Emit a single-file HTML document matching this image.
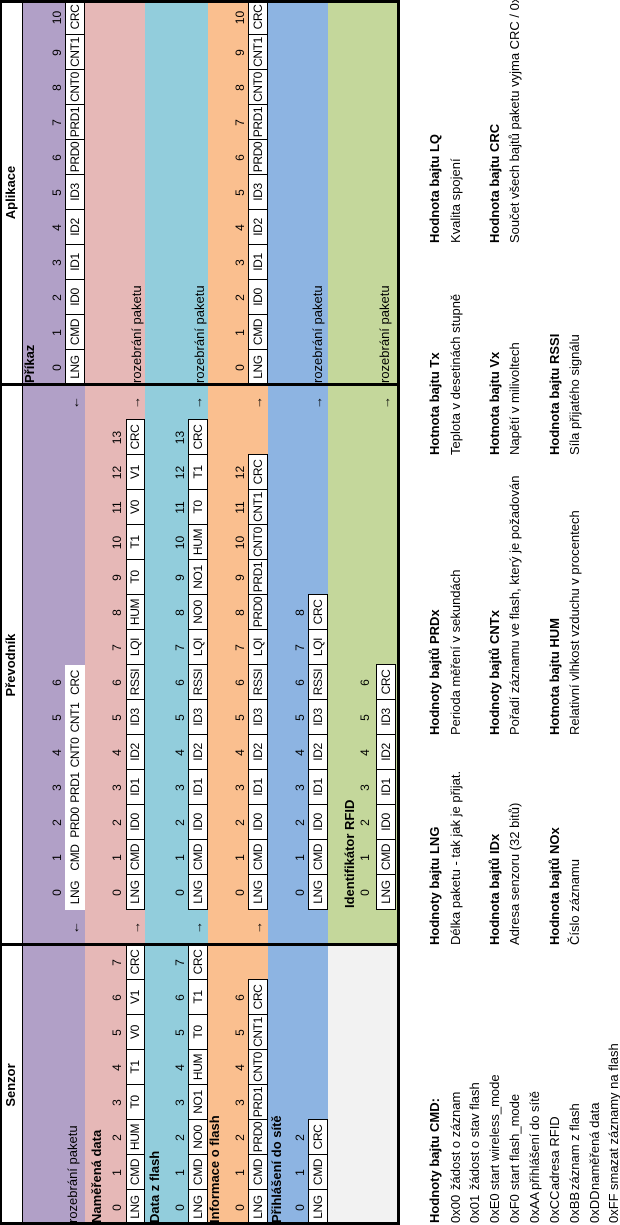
<!DOCTYPE html>
<html><head><meta charset="utf-8">
<style>
html,body{margin:0;padding:0;background:#fff;}
body{width:620px;height:1225px;position:relative;overflow:hidden;font-family:"Liberation Sans",Arial,sans-serif;color:#000;}
#root{position:absolute;left:0;top:0;width:1225px;height:620px;transform-origin:0 0;transform:translateY(1225px) rotate(-90deg);}
.a{position:absolute;box-sizing:border-box;white-space:nowrap;}
.c{text-align:center;}
.cell{background:#fff;border:1px solid #000;font-size:12px;text-align:center;letter-spacing:-0.4px;}
.num{font-size:12px;text-align:center;}
.t{font-size:13px;}
.b{font-weight:bold;}
</style></head>
<body>
<div id="root"></div>
<script>
const rowNames = ['purple','pink','teal','orange','blue','green'];
const rowColors = ['#b1a0c7','#e6b8b7','#92cddc','#fabf8f','#8db4e2','#c4d79b'];
const rowTop = [22,85,145,208,268,328];
const rowBot = [85,145,208,268,328,398];
const numY = [57,117,180,240,300,365];
const cellTop = [65,126,188,248,308,376];
const cellH = [20,19,20,20,20,20];
const titleY = [73,97,155,215,277,350];
const appTextY = [30,137,200,240,318,385];

const sensorTitles = ['rozebrání paketu','Naměřená data','Data z flash','Informace o flash','Přihlášení do sítě',''];
const sensorCells = [
 [],
 ['LNG','CMD','HUM','T0','T1','V0','V1','CRC'],
 ['LNG','CMD','NO0','NO1','HUM','T0','T1','CRC'],
 ['LNG','CMD','PRD0','PRD1','CNT0','CNT1','CRC'],
 ['LNG','CMD','CRC'],
 []
];
const convCells = [
 ['LNG','CMD','PRD0','PRD1','CNT0','CNT1','CRC'],
 ['LNG','CMD','ID0','ID1','ID2','ID3','RSSI','LQI','HUM','T0','T1','V0','V1','CRC'],
 ['LNG','CMD','ID0','ID1','ID2','ID3','RSSI','LQI','NO0','NO1','HUM','T0','T1','CRC'],
 ['LNG','CMD','ID0','ID1','ID2','ID3','RSSI','LQI','PRD0','PRD1','CNT0','CNT1','CRC'],
 ['LNG','CMD','ID0','ID1','ID2','ID3','RSSI','LQI','CRC'],
 ['LNG','CMD','ID0','ID1','ID2','ID3','CRC']
];
const appCells = [
 ['LNG','CMD','ID0','ID1','ID2','ID3','PRD0','PRD1','CNT0','CNT1','CRC'],
 [],[],
 ['LNG','CMD','ID0','ID1','ID2','ID3','PRD0','PRD1','CNT0','CNT1','CRC'],
 [],[]
];
const arrowLeft = ['←','→','→','→','',''];
const arrowRight = ['←','→','→','→','→','→'];
const CW = 35;
const root = document.getElementById('root');

function box(x,y,w,h,cls,text,name,style){
  const d=document.createElement('div');
  d.className='a '+(cls||'');
  d.style.left=x+'px';d.style.top=y+'px';d.style.width=w+'px';d.style.height=h+'px';
  if(h) d.style.lineHeight=(h-(cls&&cls.indexOf('cell')>=0?2:0))+'px';
  if(style) Object.assign(d.style,style);
  if(text!==undefined) d.textContent=text;
  
  
  root.appendChild(d);
  return d;
}

// header
box(0,0,1225,22,'', undefined,'header-row',{background:'#fff'});
box(0,0,280,22,'c t b','Senzor','senzor-header');
box(280,0,560,22,'c t b','Převodník','prevodnik-header');
box(840,0,385,22,'c t b','Aplikace','aplikace-header');

// row backgrounds
rowNames.forEach((n,i)=>{
  box(0,rowTop[i],280,rowBot[i]-rowTop[i],'',undefined,'senzor-'+n+'-band',{background: i===5?'#f2f2f2':rowColors[i]});
  box(280,rowTop[i],560,rowBot[i]-rowTop[i],'',undefined,'prevodnik-'+n+'-band',{background:rowColors[i]});
  box(840,rowTop[i],385,rowBot[i]-rowTop[i],'',undefined,'aplikace-'+n+'-band',{background:rowColors[i]});
});

function drawCells(list,col0,ri,prefix,bordered){
  list.forEach((txt,k)=>{
    const x=(col0+k)*CW;
    box(x,numY[ri]-8,CW,16,'num',String(k),prefix+'-index-'+k);
    if(bordered){
      box(x,cellTop[ri],CW+1,cellH[ri],'cell',txt,prefix+'-cell-'+txt.toLowerCase());
    }
  });
  if(!bordered && list.length){
    box(col0*CW,cellTop[ri],list.length*CW,cellH[ri],'',undefined,prefix+'-cells-bg',{background:'#fff'});
    list.forEach((txt,k)=>{
      box((col0+k)*CW,cellTop[ri],CW,cellH[ri],'c',txt,prefix+'-cell-'+txt.toLowerCase(),{fontSize:'12px',letterSpacing:'-0.4px'});
    });
  }
}

rowNames.forEach((n,i)=>{
  // senzor
  if(sensorTitles[i]){
    const bold = i>0;
    box(2,titleY[i]-9,270,18,'t'+(bold?' b':''),sensorTitles[i],'senzor-'+n+'-title');
  }
  drawCells(sensorCells[i],0,i,'senzor-'+n,true);
  // prevodnik
  drawCells(convCells[i],9,i,'prevodnik-'+n,i!==0);
  if(i===5) box(317,titleY[i]-9,200,18,'t b','Identifikátor RFID','prevodnik-rfid-title');
  const ay = cellTop[i], ah = cellH[i];
  if(arrowLeft[i]) box(8*CW,ay,CW,ah,'c',arrowLeft[i],'prevodnik-'+n+'-arrow-in',{fontSize:'13px'});
  if(arrowRight[i]) box(23*CW,ay,CW,ah,'c',arrowRight[i],'prevodnik-'+n+'-arrow-out',{fontSize:'13px'});
  // aplikace
  if(appCells[i].length){
    drawCells(appCells[i],24,i,'aplikace-'+n,true);
    if(i===0) box(842,appTextY[i]-9,100,18,'t b','Příkaz','aplikace-prikaz-title');
  } else {
    box(842,appTextY[i]-9,200,18,'t','rozebrání paketu','aplikace-'+n+'-text');
  }
});

// borders
box(0,22,1225,1,'',undefined,'header-line',{background:'#000'});
box(0,0,3,400,'',undefined,'border-left',{background:'#000'});
box(1222,0,3,400,'',undefined,'border-right',{background:'#000'});
box(0,0,1225,2,'',undefined,'border-top',{background:'#000'});
box(0,397,1225,3,'',undefined,'border-bottom',{background:'#000'});
box(279,0,3,400,'',undefined,'divider-senzor-prevodnik',{background:'#000'});
box(839,0,3,400,'',undefined,'divider-prevodnik-aplikace',{background:'#000'});

// legend
const cmdCodes = ['0x00','0x01','0xE0','0xF0','0xAA','0xCC','0xBB','0xDD','0xFF'];
const cmdDesc = ['žádost o záznam','žádost o stav flash','start wireless_mode','start flash_mode','přihlášení do sítě','adresa RFID','záznam z flash','naměřená data','smazat záznamy na flash'];
const lineY = [435,456,475,495,515,535,555,575,595,614];
box(2,lineY[0]-9,260,18,'t b','Hodnoty bajtu CMD:','legend-cmd-title');
cmdCodes.forEach((c,k)=>{
  box(2,lineY[k+1]-9,40,18,'t',c,'legend-cmd-code-'+c.toLowerCase());
  box(35,lineY[k+1]-9,240,18,'t',cmdDesc[k],'legend-cmd-desc-'+c.toLowerCase());
});
const legCols = [280,490,770,982];
const legItems = [
 [0,0,'Hodnoty bajtu LNG','Délka paketu - tak jak je přijat.'],
 [0,1,'Hodnota bajtů IDx','Adresa senzoru (32 bitů)'],
 [0,2,'Hodnota bajtů NOx','Číslo záznamu'],
 [1,0,'Hodnoty bajtů PRDx','Perioda měření v sekundách'],
 [1,1,'Hodnoty bajtů CNTx','Pořadí záznamu ve flash, který je požadován'],
 [1,2,'Hotnota bajtu HUM','Relativní vlhkost vzduchu v procentech'],
 [2,0,'Hotnota bajtu Tx','Teplota v desetinách stupně'],
 [2,1,'Hotnota bajtu Vx','Napětí v milivoltech'],
 [2,2,'Hodnota bajtu RSSI','Síla přijatého signálu'],
 [3,0,'Hodnota bajtu LQ','Kvalita spojení'],
 [3,1,'Hodnota bajtu CRC','Součet všech bajtů paketu vyjma CRC / 0xFF']
];
const grpTitleY=[435,495,555], grpTextY=[456,515,575];
legItems.forEach((it,k)=>{
  const x=legCols[it[0]];
  box(x,grpTitleY[it[1]]-9,240,18,'t b',it[2],'legend-title-'+k);
  box(x,grpTextY[it[1]]-9,300,18,'t',it[3],'legend-text-'+k);
});
</script>
</body></html>
